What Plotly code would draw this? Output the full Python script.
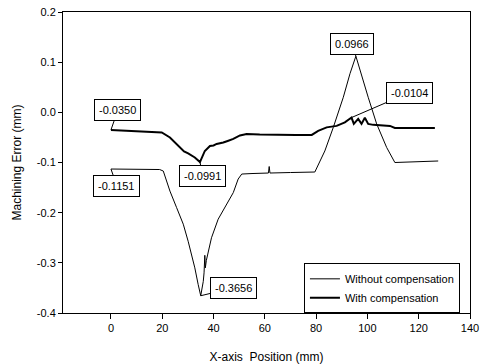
import plotly.graph_objects as go

# Without compensation (thin line)
x_without = [0, 10, 19, 20.4, 21, 23, 25.6, 28.2, 30.1, 31.5, 32.7, 34, 35, 36, 36.3, 36.6, 36.8, 37.2,
             37.9, 39.2, 41.8, 44.4, 47.7, 49.6, 51, 55, 61.4, 61.7, 62, 70, 79.5, 83.4, 86.7, 90.6,
             93.2, 95.5, 97.1, 100.3, 103.6, 107.5, 110.7, 120, 127.6]
y_without = [-0.113, -0.113, -0.114, -0.117, -0.127, -0.157, -0.19, -0.223, -0.257, -0.283, -0.31, -0.343,
             -0.3656, -0.337, -0.32, -0.285, -0.31, -0.295,
             -0.277, -0.25, -0.213, -0.19, -0.16, -0.133, -0.123, -0.122, -0.121, -0.108, -0.121, -0.12,
             -0.119, -0.077, -0.03, 0.03, 0.077, 0.112, 0.083, 0.03, -0.023, -0.07, -0.1, -0.098, -0.097]

# With compensation (thick line)
x_with = [0, 10, 19.8, 23, 26.9, 28.5, 30.1, 32.7, 34.7, 36.6, 38.6, 40, 41.2, 42.5, 43.8, 45.5, 47.7,
          50.3, 52.9, 58, 64.6, 72, 78.3, 80.8, 84.1, 88, 91.2, 93.8, 94.7, 96.4, 97.7, 99, 100.3,
          102.3, 108.8, 110.7, 126.3]
y_with = [-0.035, -0.037, -0.04, -0.05, -0.07, -0.078, -0.082, -0.09, -0.0991, -0.077, -0.067, -0.066,
          -0.063, -0.062, -0.06, -0.057, -0.053, -0.046, -0.043, -0.044, -0.045, -0.045, -0.045, -0.037,
          -0.03, -0.027, -0.02, -0.0104, -0.023, -0.013, -0.023, -0.011, -0.023, -0.025, -0.027, -0.031,
          -0.031]

x_ticks = [0, 20, 40, 60, 80, 100, 120, 140]
x_tick_labels = ["0", "20", "40", "60", "80", "100", "120", "140"]
y_ticks = [0.2, 0.1, 0.0, -0.1, -0.2, -0.3, -0.4]
y_tick_labels = ["0.2", "0.1", "0.0", "-0.1", "-0.2", "-0.3", "-0.4"]

# Annotation labels: (text, series, index into series)
ann_labels = ["-0.0350", "-0.1151", "-0.0991", "-0.3656", "0.0966", "-0.0104"]
ann_series = ["with", "without", "with", "without", "without", "with"]
ann_index = [0, 0, 8, 12, 35, 27]

FONT = "Arial, Liberation Sans, sans-serif"

fig = go.Figure()
fig.add_trace(go.Scatter(x=x_without, y=y_without, mode="lines", name="Without compensation",
                         line=dict(color="black", width=1)))
fig.add_trace(go.Scatter(x=x_with, y=y_with, mode="lines", name="With compensation",
                         line=dict(color="black", width=2)))

offsets = [(7, -20), (6, 17), (3, 14), (33, -8), (-4, -12), (58, -25)]
series = {"with": (x_with, y_with), "without": (x_without, y_without)}
for txt, s, i, (ax, ay) in zip(ann_labels, ann_series, ann_index, offsets):
    xs, ys = series[s]
    fig.add_annotation(x=xs[i], y=ys[i], text=txt, showarrow=True, arrowhead=0, arrowwidth=1,
                       arrowcolor="black", ax=ax, ay=ay, bgcolor="white", bordercolor="black",
                       borderwidth=1, borderpad=4, font=dict(family=FONT, size=11, color="black"))

fig.update_layout(
    template="none",
    width=484, height=364,
    margin=dict(l=63, r=14, t=12, b=51),
    paper_bgcolor="white", plot_bgcolor="white",
    font=dict(family=FONT, size=11, color="black"),
    showlegend=True,
    legend=dict(x=0.592, y=0.165, xanchor="left", yanchor="top", bordercolor="black", borderwidth=1,
                bgcolor="white", font=dict(size=11), tracegroupgap=0),
    xaxis=dict(range=[-18.7, 140], tickvals=x_ticks, ticktext=x_tick_labels, showgrid=False,
               zeroline=False, showline=True, linecolor="black", linewidth=1, mirror=True,
               ticks="outside", ticklen=5, tickcolor="black", automargin=False,
               title=dict(text="X-axis\u00a0 Position (mm)", font=dict(size=12), standoff=19)),
    yaxis=dict(range=[-0.4, 0.2], tickvals=y_ticks, ticktext=y_tick_labels, showgrid=False,
               zeroline=False, showline=True, linecolor="black", linewidth=1, mirror=True,
               ticks="outside", ticklen=4, tickcolor="black", automargin=False,
               title=dict(text="Machining Error (mm)", font=dict(size=12), standoff=12)),
)

fig.write_html("out.html", config={"displayModeBar": False},
               post_script="document.body.style.margin='0px';")
